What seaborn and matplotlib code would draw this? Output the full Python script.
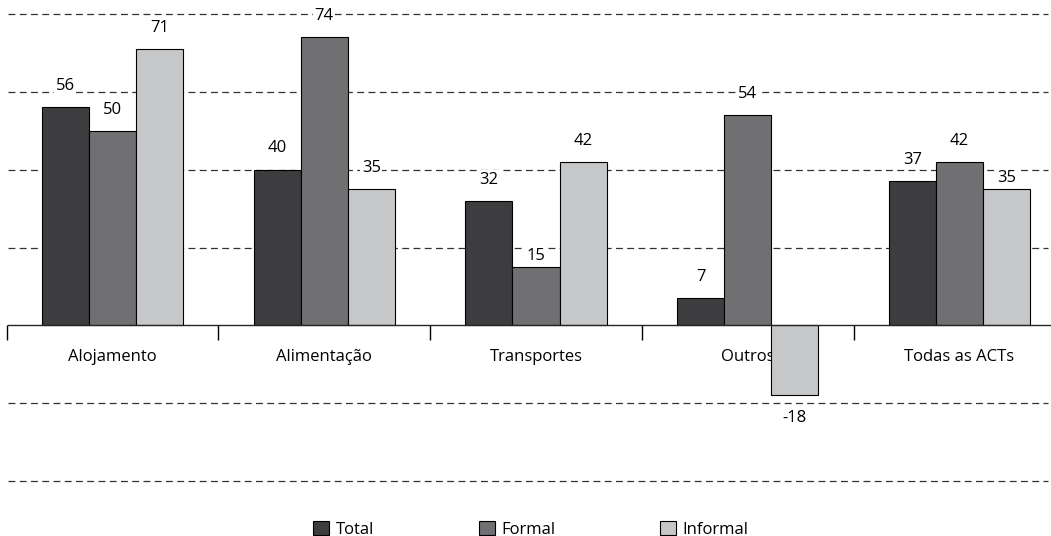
import numpy as np
import pandas as pd
import matplotlib
matplotlib.use('Agg')
import matplotlib.pyplot as plt
from matplotlib.patches import Patch
import seaborn as sns

categories = ["Alojamento", "Alimentação", "Transportes", "Outros", "Todas as ACTs"]
series = ["Total", "Formal", "Informal"]
total = [56, 40, 32, 7, 37]
formal = [50, 74, 15, 54, 42]
informal = [71, 35, 42, -18, 35]
grid_levels = [-40, -20, 20, 40, 60, 80]
colors = ["#3d3d3f", "#707072", "#c6c7c9"]

sns.set_style("white")
plt.rcParams['font.family'] = ['Open Sans', 'DejaVu Sans']
plt.rcParams['font.size'] = 12

df = pd.DataFrame({
    "categoria": categories * 3,
    "serie": [s for s in series for _ in categories],
    "valor": total + formal + informal,
})

fig = plt.figure(figsize=(10.51, 5.36), dpi=100)
ax = fig.add_axes([0, 55 / 536, 1, 467 / 536])

sns.barplot(data=df, x="categoria", y="valor", hue="serie", order=categories,
            hue_order=series, palette=colors, width=0.667, edgecolor="black",
            linewidth=0.8, saturation=1, legend=False, ax=ax, zorder=3)

ax.hlines(grid_levels, -0.493, 4.418, colors="#333333", linewidth=0.9,
          linestyles=(0, (5.5, 3.5)), zorder=1, clip_on=False)

# labels: a few sit closer to the bar to dodge the gridline
tight = {(1, 2), (2, 4)}
for j, (cont, vals) in enumerate(zip(ax.containers, [total, formal, informal])):
    for i, (bar, v) in enumerate(zip(cont, vals)):
        x = bar.get_x() + bar.get_width() / 2
        pad = 2 if (j, i) in tight else 9.5
        if v < 0:
            ax.annotate(str(v), (x, v), xytext=(0, -pad - 1), textcoords="offset points",
                        ha="center", va="top", fontsize=12, color="black", zorder=5,
                        bbox=dict(facecolor="white", edgecolor="none", pad=1))
        else:
            ax.annotate(str(v), (x, v), xytext=(0, pad), textcoords="offset points",
                        ha="center", va="bottom", fontsize=12, color="black", zorder=5,
                        bbox=dict(facecolor="white", edgecolor="none", pad=1))

ax.set_xlim(-0.531, 4.432)
ax.set_ylim(-40, 80)
ax.set_xlabel("")
ax.set_ylabel("")
ax.set_yticks([])
for s in ["top", "right", "left"]:
    ax.spines[s].set_visible(False)
ax.spines["bottom"].set_position(("data", 0))
ax.spines["bottom"].set_bounds(-0.493, 4.432)
ax.spines["bottom"].set_linewidth(1)
ax.spines["bottom"].set_zorder(4)
ax.set_xticks(range(len(categories)))
ax.set_xticklabels(categories, color="black")
ax.set_xticks([-0.5, 0.5, 1.5, 2.5, 3.5], minor=True)
ax.tick_params(axis="x", which="major", length=0, pad=17, labelsize=12)
ax.tick_params(axis="x", which="minor", length=11, width=1, color="black",
               direction="out", bottom=True)

handles = [Patch(facecolor=c, edgecolor="black", linewidth=0.8) for c in colors]
leg = fig.legend(handles, series, loc="lower center", bbox_to_anchor=(0.505, -0.031),
                 ncol=3, frameon=False, handlelength=0.96, handleheight=0.96,
                 handletextpad=0.4, columnspacing=6.27, fontsize=12)
for t in leg.get_texts():
    t.set_color("black")

fig.savefig("out.png", dpi=100)
